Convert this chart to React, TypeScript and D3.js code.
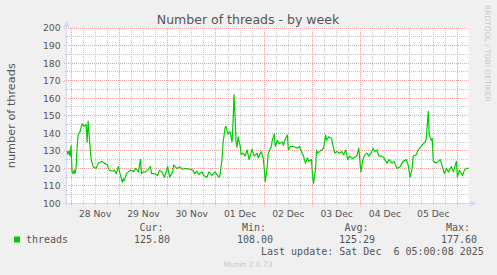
import React from 'react';
import * as d3 from 'd3';

const title = 'Number of threads - by week';
const yLabel = 'number of threads';
const watermark = 'RRDTOOL / TOBI OETIKER';
const footer = 'Munin 2.0.73';
const seriesName = 'threads';
const legendHeads = ['Cur:', 'Min:', 'Avg:', 'Max:'];
const legendValues = ['125.80', '108.00', '125.29', '177.60'];
const lastUpdate = 'Last update: Sat Dec  6 05:00:08 2025';
const yTicks = [100, 110, 120, 130, 140, 150, 160, 170, 180, 190, 200];

// hours since 28 Nov 2025 00:00 (UTC)
const hours = [
  -2, -1.5, -1, -0.5, 0, 0.5, 1, 1.5, 2, 2.5,
  3, 3.5, 4.5, 5.5, 6.5, 7.5, 8, 8.5, 9, 10,
  11, 12.5, 13.5, 14.5, 15.5, 16.5, 18, 19, 20.5, 21.5,
  22.5, 23.5, 24.5, 25.5, 26, 26.5, 27.5, 28.5, 29.5, 30.5,
  31, 32, 33, 33.5, 34.5, 35, 36, 37, 38, 39.5,
  40, 41.5, 43, 44, 45, 46.5, 48, 49, 50.5, 51,
  52.5, 54, 55.5, 57.5, 59, 60.5, 61.5, 62.5, 63.5, 65,
  66, 67.5, 68.5, 70, 71.5, 72.5, 73.5, 74, 75, 75.5,
  76.5, 77, 78, 79, 80, 80.5, 81, 81.5, 82, 82.5,
  83, 84, 84.5, 85.5, 86.5, 87.5, 88.5, 90, 91, 92.5,
  93, 94.5, 95.5, 96, 96.5, 97.5, 98, 99.5, 100, 101,
  101.5, 102.5, 103.5, 105, 105.5, 106.5, 107.5, 108, 109, 110.5,
  112.5, 113.5, 114.5, 115.5, 116.5, 117.5, 118, 119.5, 120, 120.5,
  121.5, 122, 122.5, 124.5, 125.5, 126.5, 127, 128, 129.5, 130,
  131, 132, 133.5, 134.5, 135.5, 136.5, 137.5, 138.5, 140, 142,
  143, 144, 145, 146, 147, 148, 149.5, 150, 151, 152,
  153, 154.5, 155.5, 157, 158, 159.5, 160.5, 162, 163.5, 165,
  166.5, 167.5, 168.5, 169.5, 170, 171.5, 172.5, 174, 175, 176,
  176.5, 177.5, 178, 179, 179.5, 180, 181.5, 182.5, 183.5, 184.5,
  185.5, 186.5, 187.5, 189, 190, 191.5, 192, 193, 194.5, 195.5,
  196.5, 197.5,
];

const threads = [
  130, 128, 130, 127, 133, 118, 117, 119, 117, 120,
  132, 139, 141, 145.5, 144, 145, 135, 147, 139, 125,
  121, 120, 123, 123.5, 124, 123, 122, 119, 118.5, 119,
  117, 121, 116.5, 112, 114, 113, 117, 118, 119, 118.5,
  118, 120, 119, 118, 125, 117, 118, 118, 119, 121,
  117, 117, 116, 119, 118, 115, 121, 115, 118, 122,
  120, 121, 119.5, 120, 119.5, 119, 117, 118.5, 116.5, 118,
  116, 115, 118, 116, 118, 116.5, 115, 116, 125, 134,
  143, 144, 139.5, 141, 135, 146, 162, 150, 135, 132,
  138, 133, 128, 128.7, 127, 130.5, 125, 131, 127, 128.7,
  126, 129.6, 126, 120, 112.5, 121, 128.7, 132.5, 136, 139.7,
  132.5, 136, 134, 135, 133, 137, 139, 130.5, 132.5, 132.5,
  131.5, 132.5, 129.6, 127, 123, 126, 124, 125, 116, 111.5,
  120, 130.5, 128.7, 130.5, 131.5, 139, 136, 138, 137, 134,
  128.7, 129.6, 128.7, 129.6, 127.7, 130.5, 125, 127, 125.5, 127,
  131.5, 118, 125, 127.7, 128.7, 127, 129.6, 131.5, 129.6, 130.5,
  127, 127, 126, 123, 125, 123, 124, 120, 121, 124,
  125, 122, 115, 120, 127, 127.7, 130.5, 132.5, 134, 135,
  137, 152.5, 139, 136, 137, 124, 123, 124, 125, 121,
  117, 120, 118, 121, 118, 124, 115, 119, 116, 119,
  120, 120,
];

const W = 497;
const H = 275;
const PL = 67;
const PR = 468.5;
const PT = 28;
const PB = 203.5;

const t0 = Date.UTC(2025, 10, 28, 0, 0);
const start = new Date(t0 - 2 * 3600e3);
const end = new Date(t0 + 197.5 * 3600e3);

const FONT = 'DejaVu Sans, sans-serif';
const MONO = 'DejaVu Sans Mono, monospace';
const MGRID = '#eaa0a0';
const GRID = '#c8c8c8';
const AXIS = '#cfd6f8';

export default function App() {
  const x = d3.scaleUtc().domain([start, end]).range([PL, PR]);
  const y = d3.scaleLinear().domain([100, 200]).range([PB, PT]);

  const data = hours.map((h, i) => ({ t: new Date(t0 + h * 3600e3), v: threads[i] }));
  const line = d3
    .line<{ t: Date; v: number }>()
    .x((d) => x(d.t))
    .y((d) => y(d.v));

  const px = (v: number) => Math.floor(v) + 0.5;

  const days = d3.utcDay.range(start, end);
  const sixHours = d3.utcHour.every(6)!.range(start, end).filter((d) => d.getUTCHours() !== 0);
  const labelDays = days.slice(0, 8);
  const fmt = d3.utcFormat('%d %b');
  const minorY = d3.range(105, 200, 10);

  return (
    <svg width={W} height={H} style={{ position: 'absolute', left: 0, top: 0 }}>
      <rect x={0} y={0} width={W} height={H} fill="#f0f0f0" />
      <rect x={PL} y={PT} width={PR - PL} height={PB - PT} fill="#ffffff" />

      {/* minor horizontal grid */}
      {minorY.map((v) => (
        <line key={'mh' + v} x1={PL - 2} x2={PR} y1={px(y(v))} y2={px(y(v))} stroke={GRID} strokeDasharray="1,1" />
      ))}
      {/* minor vertical grid */}
      {sixHours.map((d, i) => (
        <line key={'mv' + i} x1={px(x(d))} x2={px(x(d))} y1={PT} y2={PB + 2} stroke={GRID} strokeDasharray="1,1" />
      ))}
      {/* major horizontal grid */}
      {yTicks.map((v) => (
        <line key={'Mh' + v} x1={PL - 3} x2={PR} y1={px(y(v))} y2={px(y(v))} stroke={MGRID} strokeDasharray="1,1" />
      ))}
      {/* major vertical grid */}
      {days.map((d, i) => (
        <line key={'Mv' + i} x1={px(x(d))} x2={px(x(d))} y1={PT} y2={PB + 3} stroke={MGRID} strokeDasharray="1,1" />
      ))}

      {/* axes */}
      <line x1={PL - 0.5} x2={PL - 0.5} y1={PB + 2} y2={PT - 5} stroke={AXIS} strokeWidth={1} />
      <path d={`M${PL - 3.5},${PT - 1} L${PL + 2.5},${PT - 1} L${PL - 0.5},${PT - 7} Z`} fill={AXIS} />
      <line x1={PL - 4} x2={PR + 3} y1={px(y(100))} y2={px(y(100))} stroke={AXIS} strokeWidth={1} />
      <path
        d={`M${PR + 2},${px(y(100)) - 3} L${PR + 2},${px(y(100)) + 3} L${PR + 8},${px(y(100))} Z`}
        fill={AXIS}
      />

      {/* series */}
      <path d={line(data) || ''} fill="none" stroke="#00cc00" strokeWidth={1.2} strokeLinejoin="round" />

      {/* y tick labels */}
      {yTicks.map((v) => (
        <text key={'yl' + v} x={60.5} y={y(v) + 3.4} textAnchor="end" fontFamily={FONT} fontSize={9.2} fill="#555">
          {v}
        </text>
      ))}
      {/* x labels */}
      {labelDays.map((d, i) => (
        <text
          key={'xl' + i}
          x={x(new Date(d.getTime() + 12 * 3600e3))}
          y={216.5}
          textAnchor="middle"
          fontFamily={FONT}
          fontSize={9.2}
          fill="#555"
        >
          {fmt(d)}
        </text>
      ))}

      {/* title */}
      <text x={248} y={24} textAnchor="middle" fontFamily={FONT} fontSize={12.5} fill="#555">
        {title}
      </text>
      {/* y label */}
      <text
        transform={`translate(14.5,${(PT + PB) / 2}) rotate(-90)`}
        textAnchor="middle"
        fontFamily={FONT}
        fontSize={11.3}
        fill="#555"
      >
        {yLabel}
      </text>
      {/* watermark */}
      <text transform="translate(485,5) rotate(90)" fontFamily={FONT} fontSize={7.5} fill="#c8c8c8">
        {watermark}
      </text>

      {/* legend */}
      <rect x={14} y={236.5} width={6} height={6} fill="#00cc00" />
      <text x={26} y={242.5} fontFamily={MONO} fontSize={10} fill="#555">
        {seriesName}
      </text>
      {legendHeads.map((h, i) => (
        <text key={'lh' + i} x={[139.5, 242, 344.5, 446][i]} y={230.5} fontFamily={MONO} fontSize={10} fill="#555">
          {h}
        </text>
      ))}
      {legendValues.map((v, i) => (
        <text key={'lv' + i} x={[134, 237, 339, 441][i]} y={242.5} fontFamily={MONO} fontSize={10} fill="#555">
          {v}
        </text>
      ))}
      <text x={261} y={255} fontFamily={MONO} fontSize={10} fill="#555" style={{ whiteSpace: 'pre' }}>
        {lastUpdate}
      </text>
      <text x={248} y={266.5} textAnchor="middle" fontFamily={FONT} fontSize={7.5} fill="#c8c8c8">
        {footer}
      </text>
    </svg>
  );
}
